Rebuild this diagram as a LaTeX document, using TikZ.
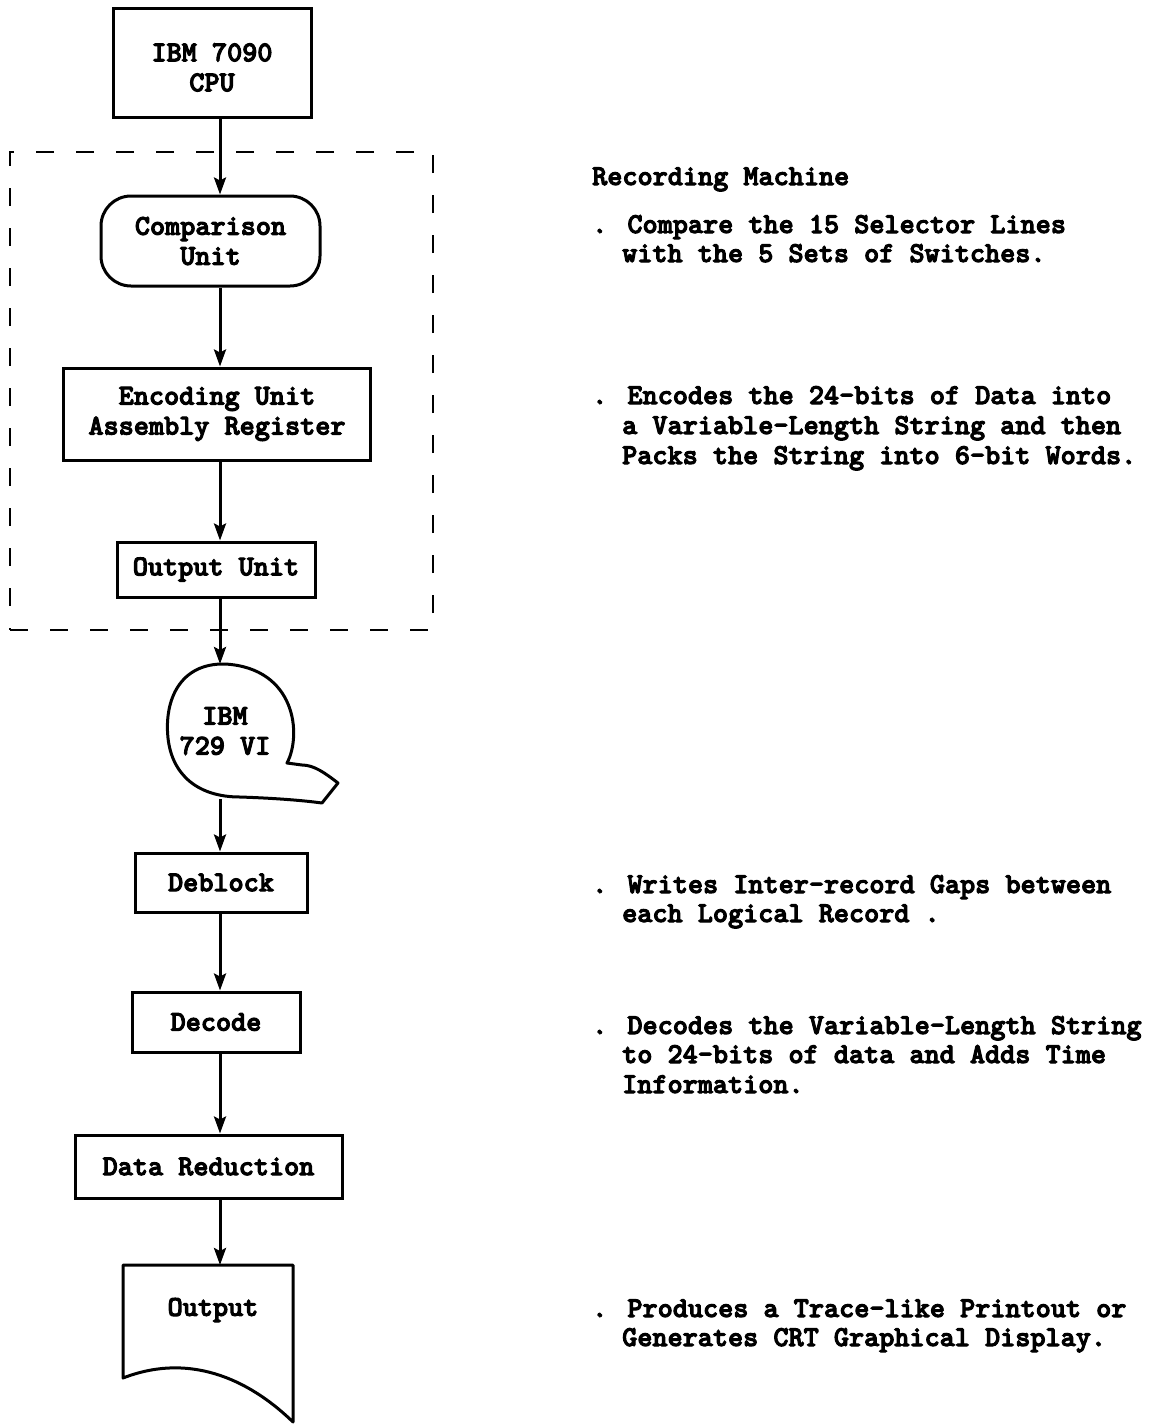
\documentclass[tikz,border=0pt]{standalone}
\usepackage{fontspec}
\newfontfamily\tw[FakeBold=3.5]{lmmonolt10-bold.otf}
\usetikzlibrary{arrows.meta}
\begin{document}
\begin{tikzpicture}[x=1pt,y=-1pt,
  txt/.style={font=\tw\fontsize{28.8}{30}\selectfont},
  box/.style={draw, line width=3pt, txt, align=center, inner sep=0pt},
  arr/.style={line width=3pt, -{Stealth[length=17pt,width=12pt,inset=3pt]}},
  note/.style={txt, anchor=base west, inner sep=0pt},
  outline/.style={line width=3pt, line join=round}
]
\useasboundingbox (0,0) rectangle (1155,1424);
% left column
\node[box, minimum width=198pt, minimum height=109pt] (cpu) at (212,62.5)
  {\raisebox{-14pt}[0pt][0pt]{\begin{tabular}{@{}c@{}}IBM 7090\\CPU\end{tabular}}};
\node[draw, dash pattern=on 18pt off 22pt, line width=2.6pt, minimum width=423pt, minimum height=478pt, inner sep=0pt] (rm) at (221.5,391) {};
\node[box, rounded corners=30pt, minimum width=219pt, minimum height=90pt] (comp) at (210.5,241) {Comparison\\Unit};
\node[box, minimum width=307pt, minimum height=92pt] (enc) at (217,414) {Encoding Unit\\Assembly Register};
\node[box, minimum width=198pt, minimum height=55pt] (ou) at (216,569.5) {Output Unit};
\node[txt, align=center, inner sep=0pt] (tape) at (225,731) {IBM\\729 VI};
\draw[outline] (287,763) .. controls (302,735) and (296,668) .. (225,664)
  .. controls (180,663) and (164,700) .. (168,738)
  .. controls (172,775) and (198,797) .. (240,797)
  .. controls (270,798) and (300,800) .. (322,803) -- (338,783)
  .. controls (325,773) and (314,765) .. (302,765) -- cycle;
\node[box, minimum width=172pt, minimum height=59pt] (deb) at (221,882.5) {Deblock};
\node[box, minimum width=168pt, minimum height=60pt] (dec) at (216,1022) {Decode};
\node[box, minimum width=267pt, minimum height=63pt] (dr) at (208.5,1166.5) {Data Reduction};
\node[txt, inner sep=0pt] (outp) at (213,1310) {Output};
\draw[outline] (123,1265) -- (293,1265) -- (293,1422)
  .. controls (255,1385) and (195,1350) .. (123,1378) -- cycle;
% connectors
\coordinate (ax) at (220,0);
\coordinate (ttop) at (220,664);
\coordinate (tbot) at (220,799);
\coordinate (otop) at (220,1265);
\draw[arr] (cpu.south -| ax) -- (comp.north -| ax);
\draw[arr] (comp.south -| ax) -- (enc.north -| ax);
\draw[arr] (enc.south -| ax) -- (ou.north -| ax);
\draw[arr] (ou.south -| ax) -- (ttop);
\draw[arr] (tbot) -- (deb.north -| ax);
\draw[arr] (deb.south -| ax) -- (dec.north -| ax);
\draw[arr] (dec.south -| ax) -- (dr.north -| ax);
\draw[arr] (dr.south -| ax) -- (otop);
% notes
\node[note] (t0) at (592,185) {Recording Machine};
\node[note] (t1a) at (592,233) {. Compare the 15 Selector Lines};
\node[note] (t1b) at (622,262) {with the 5 Sets of Switches.};
\node[note] (t2a) at (592,404) {. Encodes the 24-bits of Data into};
\node[note] (t2b) at (622,434) {a Variable-Length String and then};
\node[note] (t2c) at (622,464) {Packs the String into 6-bit Words.};
\node[note] (t3a) at (592,893) {. Writes Inter-record Gaps between};
\node[note] (t3b) at (622,922) {each Logical Record .};
\node[note] (t4a) at (592,1034) {. Decodes the Variable-Length String};
\node[note] (t4b) at (622,1063) {to 24-bits of data and Adds Time};
\node[note] (t4c) at (622,1093) {Information.};
\node[note] (t5a) at (592,1317) {. Produces a Trace-like Printout or};
\node[note] (t5b) at (622,1346) {Generates CRT Graphical Display.};
\end{tikzpicture}
\end{document}
